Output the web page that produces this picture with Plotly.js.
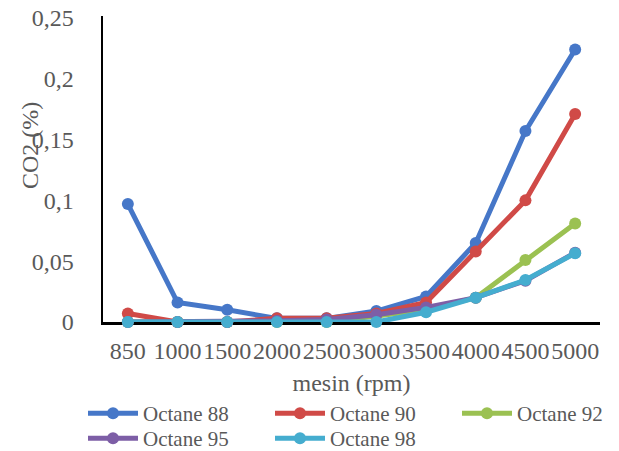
<!DOCTYPE html>
<html>
<head>
<meta charset="utf-8">
<script src="https://cdn.plot.ly/plotly-3.0.1.min.js"></script>
<style>
  html, body { margin: 0; padding: 0; background: #ffffff; }
  #chart { width: 619px; height: 451px; }
</style>
</head>
<body>
<div id="chart"></div>
<script>
// Engine speed categories (rpm)
const rpm = ['850', '1000', '1500', '2000', '2500', '3000', '3500', '4000', '4500', '5000'];

// CO2 readings (%) per fuel octane rating
const octane88 = [0.097, 0.016, 0.010, 0.003, 0.003, 0.009, 0.021, 0.065, 0.157, 0.224];
const octane90 = [0.007, 0.000, 0.000, 0.003, 0.003, 0.007, 0.016, 0.058, 0.100, 0.171];
const octane92 = [0.000, 0.000, 0.000, 0.000, 0.000, 0.005, 0.010, 0.020, 0.051, 0.081];
const octane95 = [0.000, 0.000, 0.000, 0.001, 0.002, 0.006, 0.012, 0.020, 0.034, 0.057];
const octane98 = [0.000, 0.000, 0.000, 0.000, 0.000, 0.000, 0.008, 0.020, 0.0345, 0.0565];

const seriesNames = ['Octane 88', 'Octane 90', 'Octane 92', 'Octane 95', 'Octane 98'];
const seriesValues = [octane88, octane90, octane92, octane95, octane98];
const seriesColors = ['#4677C8', '#D04A47', '#9BC152', '#7D5EA6', '#45ADCF'];
// first three entries on the upper legend row, the rest on the lower one
const seriesLegend = ['legend', 'legend', 'legend', 'legend2', 'legend2'];

const yTickVals = [0, 0.05, 0.1, 0.15, 0.2, 0.25];
const yTickText = ['0', '0,05', '0,1', '0,15', '0,2', '0,25'];

const serif = 'Liberation Serif, DejaVu Serif, serif';
const grey = '#595959';

const W = 619, H = 451;

const traces = seriesNames.map((name, i) => ({
  type: 'scatter',
  mode: 'lines+markers',
  name: name,
  legend: seriesLegend[i],
  // last entry of a row only needs room for its own label
  legendwidth: (i === 2 || i === 4) ? 100 : undefined,
  x: rpm,
  y: seriesValues[i],
  line: { color: seriesColors[i], width: 5 },
  marker: { color: seriesColors[i], size: 12 },
  cliponaxis: false
}));

const legendRow = (topPx) => ({
  orientation: 'h',
  x: 83 / W,
  xanchor: 'left',
  y: 1 - topPx / H,
  yanchor: 'top',
  font: { family: serif, size: 21, color: grey },
  entrywidth: 122,
  entrywidthmode: 'pixels',
  itemwidth: 50,
  bgcolor: 'rgba(0,0,0,0)',
  borderwidth: 0
});

const layout = {
  width: W,
  height: H,
  // the figure is the whole canvas; axis domains place the plot area inside it
  margin: { l: 0, r: 0, t: 0, b: 0, pad: 0, autoexpand: false },
  paper_bgcolor: '#ffffff',
  plot_bgcolor: '#ffffff',
  font: { family: serif, size: 24, color: grey },
  showlegend: true,
  xaxis: {
    type: 'category',
    domain: [103 / W, 600 / W],
    range: [-0.5, 9.5],
    showgrid: false,
    zeroline: false,
    showline: true,
    linecolor: '#000000',
    linewidth: 2.5,
    layer: 'below traces',
    ticks: '',
    tickangle: 0,
    ticklabelstandoff: 6,
    tickfont: { family: serif, size: 24, color: grey },
    title: { text: 'mesin (rpm)', font: { family: serif, size: 24, color: grey }, standoff: 11 },
    automargin: false,
    fixedrange: true
  },
  yaxis: {
    domain: [1 - 322 / H, 1 - 15.5 / H],
    range: [0, 0.252],
    showgrid: false,
    zeroline: false,
    showline: true,
    linecolor: '#000000',
    linewidth: 2.5,
    layer: 'below traces',
    ticks: '',
    tickvals: yTickVals,
    ticktext: yTickText,
    tickfont: { family: serif, size: 24, color: grey },
    ticklabelstandoff: 22,
    automargin: false,
    fixedrange: true
  },
  legend: legendRow(393),
  legend2: legendRow(418),
  annotations: [{
    text: 'CO2 (%)',
    textangle: -90,
    xref: 'paper',
    yref: 'paper',
    x: 30 / W,
    y: 1 - 146 / H,
    xanchor: 'center',
    yanchor: 'middle',
    showarrow: false,
    font: { family: serif, size: 24, color: grey }
  }]
};

Plotly.newPlot('chart', traces, layout, { displayModeBar: false, staticPlot: true });
</script>
</body>
</html>
